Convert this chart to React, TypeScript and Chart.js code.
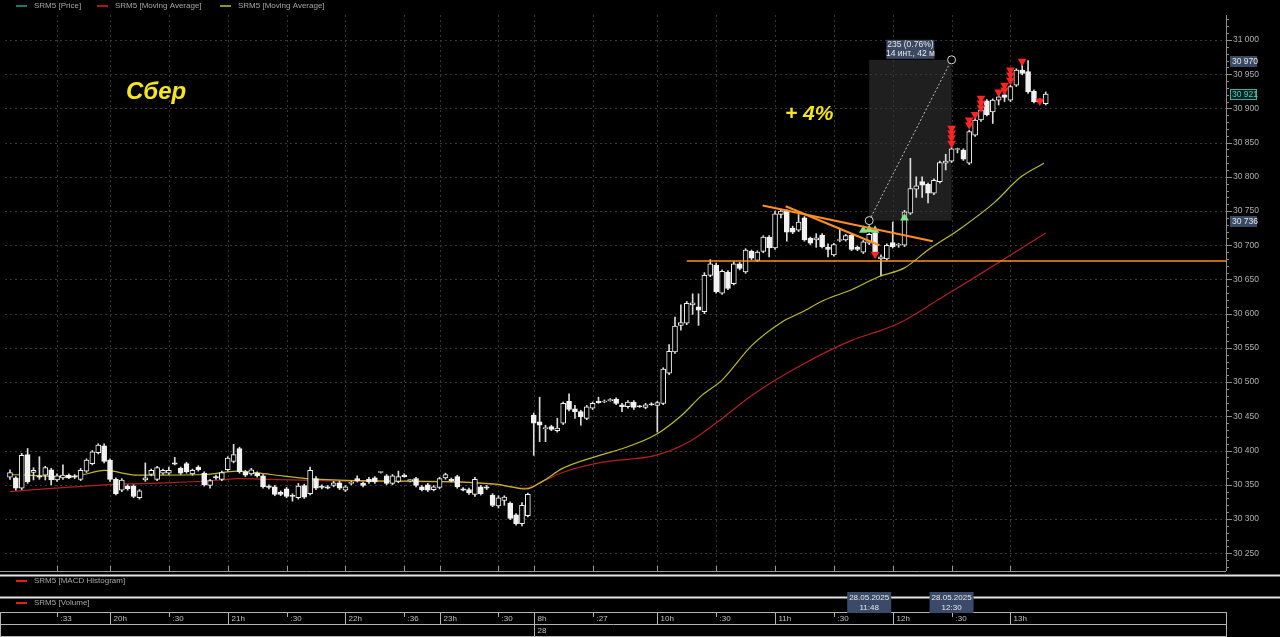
import { useEffect, useRef } from "react";
import { Chart, registerables } from "chart.js";

Chart.register(...registerables);

// ---------- candle data (3-minute candles, SRM5) ----------
const opens = [
  30361, 30360, 30345, 30394, 30368, 30363, 30364, 30372, 30357, 30360,
  30364, 30363, 30358, 30370, 30381, 30397, 30407, 30386, 30358, 30342,
  30348, 30348, 30331, 30357, 30365, 30358, 30367, 30367, 30382, 30374,
  30381, 30366, 30376, 30367, 30349, 30362, 30358, 30372, 30384, 30403,
  30369, 30366, 30367, 30363, 30348, 30347, 30339, 30344, 30334, 30331,
  30349, 30337, 30359, 30348, 30347, 30349, 30353, 30342, 30352, 30359,
  30352, 30358, 30360, 30368, 30363, 30352, 30355, 30364, 30356, 30359,
  30347, 30350, 30343, 30346, 30360, 30358, 30362, 30344, 30343, 30336,
  30347, 30347, 30335, 30319, 30327, 30323, 30306, 30293, 30305, 30452,
  30442, 30432, 30435, 30429, 30440, 30472, 30461, 30457, 30447, 30462,
  30472, 30471, 30473, 30475, 30467, 30464, 30471, 30465, 30463, 30468,
  30466, 30469, 30513, 30544, 30583, 30586, 30613, 30610, 30603, 30656,
  30671, 30630, 30661, 30644, 30673, 30661, 30691, 30678, 30691, 30712,
  30696, 30745, 30750, 30725, 30722, 30740, 30710, 30708, 30715, 30697,
  30686, 30707, 30708, 30715, 30697, 30690, 30703, 30718, 30680, 30680,
  30704, 30700, 30700, 30747, 30782, 30793, 30789, 30776, 30793, 30820,
  30823, 30840, 30839, 30820, 30861, 30883, 30911, 30895, 30912, 30920,
  30912, 30934, 30956, 30954, 30925, 30912, 30907,
];
const highs = [
  30372, 30362, 30396, 30403, 30375, 30391, 30377, 30374, 30366, 30379,
  30366, 30365, 30374, 30388, 30400, 30410, 30410, 30388, 30360, 30359,
  30350, 30350, 30343, 30382, 30373, 30377, 30373, 30376, 30390, 30376,
  30383, 30373, 30378, 30369, 30358, 30364, 30370, 30391, 30409, 30405,
  30371, 30374, 30369, 30365, 30350, 30349, 30341, 30346, 30337, 30352,
  30351, 30376, 30362, 30350, 30349, 30355, 30355, 30349, 30355, 30363,
  30354, 30361, 30362, 30369, 30365, 30365, 30370, 30366, 30358, 30361,
  30349, 30352, 30349, 30361, 30367, 30360, 30364, 30346, 30345, 30361,
  30349, 30349, 30337, 30334, 30334, 30325, 30308, 30324, 30338, 30455,
  30478, 30437, 30437, 30447, 30471, 30483, 30466, 30459, 30466, 30471,
  30478, 30474, 30476, 30477, 30469, 30473, 30473, 30466, 30469, 30470,
  30472, 30521, 30555, 30595, 30613, 30618, 30629, 30629, 30660, 30679,
  30674, 30664, 30663, 30676, 30675, 30695, 30693, 30692, 30714, 30714,
  30750, 30753, 30752, 30728, 30745, 30742, 30712, 30717, 30717, 30702,
  30703, 30725, 30716, 30717, 30699, 30707, 30718, 30722, 30686, 30702,
  30734, 30703, 30751, 30827, 30800, 30800, 30791, 30797, 30823, 30833,
  30843, 30842, 30841, 30868, 30885, 30900, 30913, 30914, 30919, 30922,
  30934, 30958, 30965, 30970, 30927, 30914, 30924,
];
const lows = [
  30358, 30342, 30343, 30352, 30357, 30358, 30357, 30350, 30355, 30358,
  30359, 30359, 30356, 30368, 30379, 30395, 30382, 30355, 30335, 30340,
  30342, 30331, 30329, 30355, 30363, 30356, 30365, 30365, 30379, 30365,
  30367, 30364, 30370, 30348, 30345, 30358, 30356, 30370, 30382, 30367,
  30362, 30364, 30361, 30345, 30344, 30334, 30334, 30331, 30326, 30329,
  30330, 30335, 30343, 30344, 30344, 30347, 30343, 30340, 30350, 30354,
  30347, 30352, 30352, 30367, 30350, 30350, 30353, 30361, 30354, 30347,
  30341, 30340, 30341, 30344, 30358, 30354, 30345, 30341, 30336, 30333,
  30335, 30343, 30318, 30316, 30320, 30299, 30291, 30290, 30303, 30393,
  30413, 30413, 30429, 30427, 30438, 30458, 30447, 30437, 30445, 30460,
  30469, 30470, 30472, 30467, 30457, 30462, 30460, 30463, 30461, 30466,
  30427, 30467, 30511, 30542, 30576, 30584, 30599, 30583, 30600, 30654,
  30630, 30628, 30635, 30642, 30664, 30659, 30679, 30676, 30689, 30683,
  30694, 30740, 30706, 30717, 30720, 30706, 30701, 30697, 30696, 30683,
  30684, 30705, 30706, 30692, 30692, 30688, 30701, 30688, 30656, 30678,
  30696, 30697, 30698, 30745, 30770, 30770, 30762, 30774, 30791, 30810,
  30821, 30835, 30824, 30818, 30859, 30881, 30889, 30878, 30905, 30910,
  30910, 30932, 30949, 30922, 30908, 30907, 30905,
];
const closes = [
  30368, 30345, 30393, 30354, 30371, 30361, 30375, 30357, 30363, 30364,
  30360, 30361, 30371, 30386, 30398, 30408, 30384, 30358, 30337, 30357,
  30344, 30333, 30341, 30360, 30371, 30375, 30371, 30371, 30380, 30367,
  30369, 30371, 30372, 30350, 30356, 30360, 30368, 30389, 30394, 30369,
  30364, 30372, 30363, 30347, 30346, 30336, 30336, 30333, 30333, 30348,
  30332, 30371, 30345, 30346, 30345, 30353, 30345, 30347, 30353, 30356,
  30349, 30354, 30354, 30368, 30352, 30363, 30362, 30362, 30356, 30349,
  30343, 30342, 30347, 30359, 30365, 30356, 30347, 30342, 30338, 30358,
  30337, 30345, 30320, 30331, 30332, 30301, 30293, 30320, 30336, 30440,
  30437, 30432, 30431, 30433, 30469, 30460, 30457, 30449, 30464, 30469,
  30470, 30471, 30473, 30469, 30464, 30471, 30463, 30464, 30467, 30467,
  30470, 30519, 30545, 30582, 30587, 30615, 30616, 30605, 30656, 30673,
  30632, 30662, 30637, 30673, 30666, 30693, 30681, 30690, 30712, 30696,
  30746, 30750, 30719, 30719, 30734, 30708, 30703, 30711, 30698, 30694,
  30701, 30708, 30714, 30694, 30694, 30705, 30716, 30690, 30683, 30700,
  30698, 30700, 30749, 30783, 30787, 30788, 30776, 30795, 30821, 30823,
  30841, 30840, 30826, 30866, 30883, 30898, 30891, 30912, 30917, 30916,
  30932, 30956, 30951, 30924, 30910, 30909, 30921,
];

// ---------- moving averages (at candle positions) ----------
const fastMaIdx = [0, 10.5, 16.1, 21.7, 33, 38.6, 44.3, 50.4, 60.1, 77, 82.6, 87.7, 90.5, 93.9, 100.2, 104.1, 109.7, 114.2, 117.6, 121, 126.1, 131.2, 134.5, 138.4, 143, 147.6, 152, 156, 161.6, 167.2, 171.8, 175.7];
const fastMaVal = [30365, 30362, 30371, 30364, 30365, 30370, 30365, 30359, 30356, 30354, 30351, 30344, 30355, 30374, 30393, 30403, 30423, 30452, 30481, 30503, 30554, 30588, 30602, 30620, 30635, 30654, 30667, 30693, 30725, 30762, 30800, 30820];
const slowMaIdx = [0, 7.6, 16.1, 27.4, 35.9, 38.6, 44.3, 60.1, 77, 82.6, 87.7, 90.5, 93.9, 100.7, 109.7, 115.4, 121, 126.1, 134.5, 143, 148.1, 151.5, 158.2, 164.5, 170.1, 176];
const slowMaVal = [30340, 30345, 30350, 30353, 30357, 30359, 30358, 30355, 30354, 30350, 30345, 30355, 30368, 30383, 30393, 30413, 30447, 30481, 30525, 30561, 30576, 30588, 30623, 30656, 30686, 30718];

// ---------- signal markers ----------
const buyIdx = [145, 146, 147, 152];
const buyPrice = [30722, 30723, 30722, 30740];
const sellIdx = [147, 160, 160, 160, 160, 163, 163, 164, 165, 165, 165, 168, 169, 169, 170, 170, 170, 172, 175];
const sellPrice = [30687, 30871, 30864, 30857, 30849, 30883, 30876, 30891, 30915, 30908, 30901, 30924, 30934, 30927, 30956, 30949, 30941, 30969, 30911];

// ---------- time axis ----------
const timeTickIdx = [8, 17, 27, 37, 47, 57, 67, 73, 83, 89, 99, 110, 120, 130, 140, 150, 160, 170];
const timeTickLabels = [":33", "20h", ":30", "21h", ":30", "22h", ":36", "23h", ":30", "8h", ":27", "10h", ":30", "11h", ":30", "12h", ":30", "13h"];
const dayIdx = [89];
const dayLabels = ["28"];

// ---------- drawings ----------
const supportFromIdx = 115;
const supportPrice = 30677;
const trendLineA = [127.9, 30758, 156.8, 30706];
const trendLineB = [131.8, 30757, 147.75, 30700];
const measureFromIdx = 146;
const measureToIdx = 160;
const measureFromPrice = 30736;
const measureToPrice = 30971;
const measureTexts = ["235 (0.76%)", "14 инт., 42 м"];
const measureDates = [["28.05.2025", "11:48"], ["28.05.2025", "12:30"]];
const priceTagValues = [30970, 30921, 30736];
const priceTagKinds = ["mark", "last", "mark"];

const legendItems = [
  { text: "SRM5 [Price]", color: "#2a9d8f" },
  { text: "SRM5 [Moving Average]", color: "#d42424" },
  { text: "SRM5 [Moving Average]", color: "#c4c428" },
];

const FONT = '"Liberation Sans", Arial, sans-serif';

function fmtPrice(v: number) {
  const r = Math.round(v);
  return `${Math.floor(r / 1000)} ${String(r % 1000).padStart(3, "0")}`;
}

const overlayPlugin = {
  id: "overlay",
  beforeDraw(chart: any) {
    const { ctx, width, height } = chart;
    ctx.save();
    ctx.fillStyle = "#000";
    ctx.fillRect(0, 0, width, height);
    ctx.restore();
  },
  beforeDatasetsDraw(chart: any) {
    const { ctx, chartArea: ca } = chart;
    const x = chart.scales.x;
    const y = chart.scales.y;
    ctx.save();
    const mx0 = x.getPixelForValue(measureFromIdx);
    const mx1 = x.getPixelForValue(measureToIdx);
    const my0 = y.getPixelForValue(measureToPrice);
    const my1 = y.getPixelForValue(measureFromPrice);
    ctx.fillStyle = "#1f1f1f";
    ctx.fillRect(mx0, my0, mx1 - mx0, my1 - my0);

    ctx.strokeStyle = "#363636";
    ctx.lineWidth = 1;
    ctx.setLineDash([2, 3]);
    ctx.beginPath();
    y.ticks.forEach((t: any) => {
      if (Math.round(t.value) % 50 !== 0) return;
      const py = Math.round(y.getPixelForValue(t.value)) + 0.5;
      ctx.moveTo(ca.left, py);
      ctx.lineTo(ca.right, py);
    });
    timeTickIdx.forEach((i) => {
      const px = Math.round(x.getPixelForValue(i)) + 0.5;
      ctx.moveTo(px, ca.top);
      ctx.lineTo(px, ca.bottom);
    });
    ctx.stroke();
    ctx.restore();
  },
  afterDatasetsDraw(chart: any) {
    const { ctx, chartArea: ca } = chart;
    const x = chart.scales.x;
    const y = chart.scales.y;
    ctx.save();
    // support line
    ctx.strokeStyle = "#ff8f1f";
    ctx.lineWidth = 1.6;
    ctx.beginPath();
    const sy = y.getPixelForValue(supportPrice);
    ctx.moveTo(x.getPixelForValue(supportFromIdx), sy);
    ctx.lineTo(ca.right, sy);
    ctx.stroke();
    // trend lines
    ctx.lineWidth = 2;
    [trendLineA, trendLineB].forEach((l) => {
      ctx.beginPath();
      ctx.moveTo(x.getPixelForValue(l[0]), y.getPixelForValue(l[1]));
      ctx.lineTo(x.getPixelForValue(l[2]), y.getPixelForValue(l[3]));
      ctx.stroke();
    });
    // measure diagonal
    const ax = x.getPixelForValue(measureFromIdx);
    const ay = y.getPixelForValue(measureFromPrice);
    const bx = x.getPixelForValue(measureToIdx);
    const by = y.getPixelForValue(measureToPrice);
    ctx.strokeStyle = "#bdbdbd";
    ctx.lineWidth = 1;
    ctx.setLineDash([2, 2]);
    ctx.beginPath();
    ctx.moveTo(ax, ay);
    ctx.lineTo(bx, by);
    ctx.stroke();
    ctx.setLineDash([]);
    [[ax, ay], [bx, by]].forEach(([cx, cy]) => {
      ctx.beginPath();
      ctx.arc(cx, cy, 4, 0, Math.PI * 2);
      ctx.fillStyle = "#000";
      ctx.fill();
      ctx.strokeStyle = "#d6d6d6";
      ctx.stroke();
    });
    // measure label
    const cxm = (ax + bx) / 2;
    ctx.fillStyle = "#3b4a63";
    ctx.fillRect(cxm - 24, by - 20, 48, 19);
    ctx.fillStyle = "#e8e8e8";
    ctx.font = `8.5px ${FONT}`;
    ctx.textAlign = "center";
    ctx.textBaseline = "middle";
    ctx.fillText(measureTexts[0], cxm, by - 15);
    ctx.fillText(measureTexts[1], cxm, by - 6.5);
    // big yellow texts
    ctx.textAlign = "left";
    ctx.textBaseline = "alphabetic";
    ctx.fillStyle = "#f4e51c";
    ctx.font = `italic bold 24px ${FONT}`;
    ctx.fillText("Сбер", 126, 99);
    ctx.font = `italic bold 21px ${FONT}`;
    ctx.fillText("+ 4%", 785, 120);
    ctx.restore();
  },
  afterDraw(chart: any) {
    const { ctx, chartArea: ca, width } = chart;
    const x = chart.scales.x;
    const y = chart.scales.y;
    ctx.save();
    // right axis line & ticks
    ctx.strokeStyle = "#8c8c8c";
    ctx.lineWidth = 1;
    ctx.beginPath();
    ctx.moveTo(ca.right + 0.5, ca.top);
    ctx.lineTo(ca.right + 0.5, ca.bottom);
    for (let v = Math.ceil(y.min / 10) * 10; v <= y.max; v += 10) {
      const py = Math.round(y.getPixelForValue(v)) + 0.5;
      ctx.moveTo(ca.right, py);
      ctx.lineTo(ca.right + (v % 50 === 0 ? 6 : 3), py);
    }
    ctx.stroke();
    // price tags
    ctx.font = `8.5px ${FONT}`;
    ctx.textAlign = "left";
    ctx.textBaseline = "middle";
    priceTagValues.forEach((v, k) => {
      const py = Math.round(y.getPixelForValue(v));
      const kind = priceTagKinds[k];
      if (kind === "last") {
        ctx.fillStyle = "#06201e";
        ctx.fillRect(ca.right + 4, py - 5, 27, 11);
        ctx.strokeStyle = "#2bb3a3";
        ctx.strokeRect(ca.right + 4.5, py - 4.5, 26, 10);
        ctx.fillStyle = "#3fd3c2";
      } else {
        ctx.fillStyle = "#3a4a66";
        ctx.fillRect(ca.right + 4, py - 5, 27, 11);
        ctx.fillStyle = "#e6e6e6";
      }
      ctx.fillText(fmtPrice(v), ca.right + 6, py + 0.5);
    });
    // top legend
    ctx.font = `8px ${FONT}`;
    ctx.fillStyle = "#a6a6a6";
    const legendX = [16, 97, 220];
    legendItems.forEach((it, k) => {
      ctx.strokeStyle = it.color;
      ctx.lineWidth = 1.5;
      ctx.beginPath();
      ctx.moveTo(legendX[k], 6);
      ctx.lineTo(legendX[k] + 11, 6);
      ctx.stroke();
      ctx.fillText(it.text, legendX[k] + 18, 6);
    });
    // main pane bottom
    ctx.strokeStyle = "#9a9a9a";
    ctx.lineWidth = 1;
    ctx.beginPath();
    ctx.moveTo(0, ca.bottom + 0.5);
    ctx.lineTo(ca.right, ca.bottom + 0.5);
    timeTickIdx.forEach((i) => {
      const px = Math.round(x.getPixelForValue(i)) + 0.5;
      ctx.moveTo(px, ca.bottom - 5);
      ctx.lineTo(px, ca.bottom);
    });
    ctx.stroke();
    // pane separators
    ctx.strokeStyle = "#e4e4e4";
    ctx.lineWidth = 2;
    ctx.beginPath();
    ctx.moveTo(0, 575.5);
    ctx.lineTo(width, 575.5);
    ctx.moveTo(0, 597.5);
    ctx.lineTo(width, 597.5);
    ctx.stroke();
    // sub-pane legends
    [["SRM5 [MACD Histogram]", 581], ["SRM5 [Volume]", 603]].forEach(([t, py]) => {
      ctx.strokeStyle = "#e02020";
      ctx.lineWidth = 2;
      ctx.beginPath();
      ctx.moveTo(16, py as number);
      ctx.lineTo(27, py as number);
      ctx.stroke();
      ctx.fillStyle = "#a6a6a6";
      ctx.fillText(t as string, 34, py as number);
    });
    // time axis box
    ctx.strokeStyle = "#b4b4b4";
    ctx.lineWidth = 1;
    ctx.strokeRect(0.5, 612.5, ca.right, 24);
    ctx.beginPath();
    ctx.moveTo(0.5, 624.5);
    ctx.lineTo(ca.right + 0.5, 624.5);
    ctx.stroke();
    ctx.fillStyle = "#c2c2c2";
    ctx.font = `8px ${FONT}`;
    timeTickIdx.forEach((i, k) => {
      const px = Math.round(x.getPixelForValue(i)) + 0.5;
      const lbl = timeTickLabels[k];
      const isHour = lbl.endsWith("h");
      ctx.beginPath();
      ctx.moveTo(px, 613);
      ctx.lineTo(px, isHour ? 624 : 617);
      ctx.stroke();
      ctx.fillText(lbl, px + 3, 619);
    });
    dayIdx.forEach((i, k) => {
      const px = Math.round(x.getPixelForValue(i)) + 0.5;
      ctx.beginPath();
      ctx.moveTo(px, 625);
      ctx.lineTo(px, 636);
      ctx.stroke();
      ctx.fillText(dayLabels[k], px + 3, 630.5);
    });
    // measure date tags
    ctx.textAlign = "center";
    [measureFromIdx, measureToIdx].forEach((i, k) => {
      const px = x.getPixelForValue(i);
      ctx.fillStyle = "#3a4a68";
      ctx.fillRect(px - 22, 592, 44, 21);
      ctx.fillStyle = "#e8e8e8";
      ctx.fillText(measureDates[k][0], px, 598);
      ctx.fillText(measureDates[k][1], px, 607.5);
    });
    ctx.restore();
  },
};

export default function App() {
  const ref = useRef<HTMLCanvasElement>(null);
  useEffect(() => {
    document.body.style.margin = "0";
    document.body.style.background = "#000";
    const candleUp = opens.map((o, i) => closes[i] >= o);
    const chart = new Chart(ref.current as HTMLCanvasElement, {
      type: "bar",
      data: {
        datasets: [
          {
            type: "line",
            label: "slow MA",
            data: slowMaIdx.map((v, k) => ({ x: v, y: slowMaVal[k] })),
            borderColor: "#b3201e",
            borderWidth: 1.2,
            pointRadius: 0,
            cubicInterpolationMode: "monotone",
            order: 10,
          },
          {
            type: "line",
            label: "fast MA",
            data: fastMaIdx.map((v, k) => ({ x: v, y: fastMaVal[k] })),
            borderColor: "#bcbb2a",
            borderWidth: 1.2,
            pointRadius: 0,
            cubicInterpolationMode: "monotone",
            order: 9,
          },
          {
            type: "bar",
            label: "wicks",
            data: opens.map((_, i) => ({ x: i, y: [lows[i], highs[i]] })),
            backgroundColor: "#dcdcdc",
            borderWidth: 0,
            barThickness: 1,
            grouped: false,
            order: 5,
          },
          {
            type: "bar",
            label: "bodies",
            data: opens.map((o, i) => ({ x: i, y: [o, closes[i]] })),
            backgroundColor: candleUp.map((u) => (u ? "#000000" : "#f2f2f2")),
            borderColor: "#f2f2f2",
            borderWidth: 1,
            borderSkipped: false,
            barThickness: 5,
            minBarLength: 1,
            grouped: false,
            order: 3,
          },
          {
            type: "line",
            label: "buy",
            data: buyIdx.map((v, k) => ({ x: v, y: buyPrice[k] })),
            showLine: false,
            pointStyle: "triangle",
            pointRadius: 5,
            pointBackgroundColor: "#7fe38d",
            pointBorderWidth: 0,
            order: 1,
          },
          {
            type: "line",
            label: "sell",
            data: sellIdx.map((v, k) => ({ x: v, y: sellPrice[k] })),
            showLine: false,
            pointStyle: "triangle",
            pointRotation: 180,
            pointRadius: 5,
            pointBackgroundColor: "#ff2424",
            pointBorderWidth: 0,
            order: 1,
          },
        ] as any,
      },
      options: {
        responsive: false,
        animation: false,
        devicePixelRatio: 1,
        events: [],
        layout: { padding: { top: 15, bottom: 66, left: 0, right: 0 } },
        plugins: { legend: { display: false }, tooltip: { enabled: false } },
        scales: {
          x: {
            type: "linear",
            min: -0.846,
            max: 206.63,
            offset: false,
            display: false,
            grid: { display: false },
          },
          y: {
            type: "linear",
            position: "right",
            min: 30224,
            max: 31036.5,
            grid: { display: false, drawTicks: false },
            border: { display: false },
            ticks: {
              stepSize: 50,
              includeBounds: false,
              padding: 7,
              color: "#b0b0b0",
              font: { family: FONT, size: 8.5 },
              callback: (v: any) => (Math.round(Number(v)) % 50 === 0 ? fmtPrice(Number(v)) : ""),
            },
            afterFit: (s: any) => {
              s.width = 54;
            },
          },
        },
      } as any,
      plugins: [overlayPlugin],
    });
    return () => chart.destroy();
  }, []);
  return (
    <div style={{ width: 1280, height: 637, background: "#000" }}>
      <canvas ref={ref} width={1280} height={637} style={{ display: "block" }} />
    </div>
  );
}
